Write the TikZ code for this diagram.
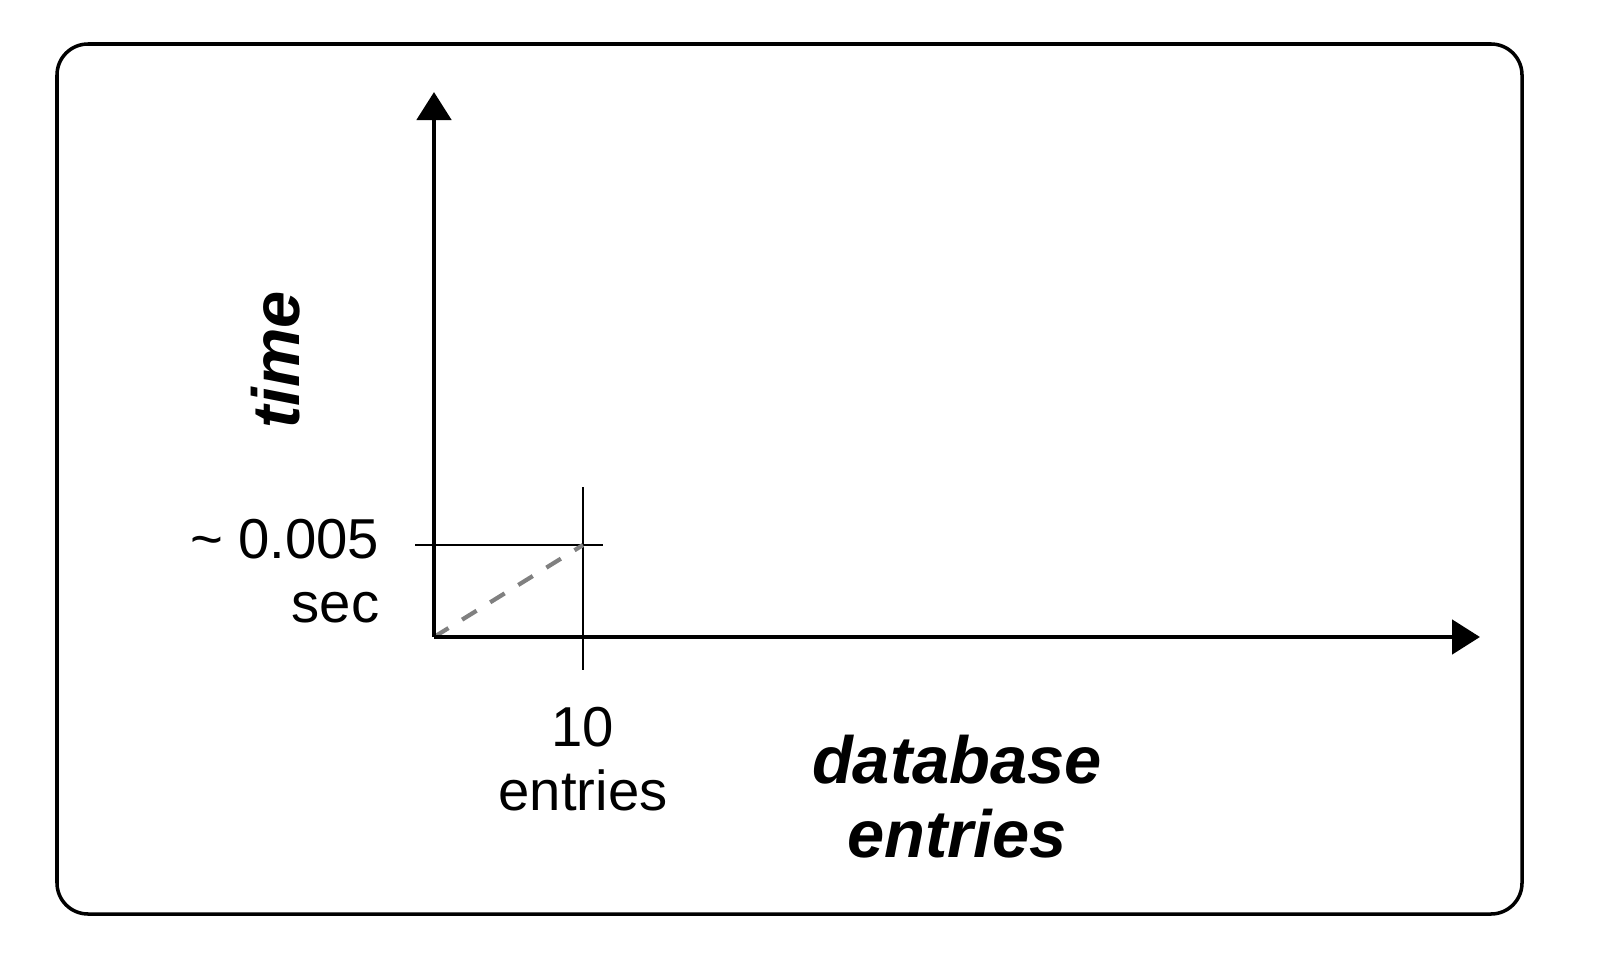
\documentclass[tikz,border=0pt]{standalone}
\usepackage{fontspec}
\setmainfont{Liberation Sans}
\usetikzlibrary{arrows.meta}
\tikzset{
  axis/.style={line width=1.4pt, line join=miter, -{Triangle[length=0.28cm,width=0.34cm]}},
  tickline/.style={line width=0.7pt},
  trend/.style={line width=1.2pt, draw=gray, dash pattern=on 0.17cm off 0.16cm},
  frame/.style={line width=1pt, rounded corners=0.31cm},
  reg/.style={font=\fontsize{16}{19}\selectfont, inner sep=0pt},
  big/.style={font=\fontsize{19}{23}\selectfont\bfseries\itshape, inner sep=0pt}
}
\begin{document}
\begin{tikzpicture}[x=0.01cm,y=-0.01cm]
\useasboundingbox (0,0) rectangle (1600,970);
\draw[frame] (57,44) rectangle (1522,914);
\coordinate (O) at (434,637);
\coordinate (ytop) at (434,92);
\coordinate (xend) at (1480,637);
\coordinate (hl) at (415,545);
\coordinate (hr) at (603,545);
\coordinate (vt) at (583,487);
\coordinate (vb) at (583,670);
\coordinate (P) at (583,545);
\draw[tickline] (hl) -- (hr);
\draw[tickline] (vt) -- (vb);
\draw[trend] (O) -- (P);
\draw[axis] (O) -- (ytop);
\draw[axis] (O) -- (xend);
\node[reg, anchor=base east] (tval) at (380,558) {\char`\~{} 0.005};
\node[reg, anchor=base east] (tunit) at (380,622) {sec};
\node[reg, anchor=base] (nval) at (583,746) {10};
\node[reg, anchor=base] (nunit) at (583,810) {entries};
\node[big, anchor=base] (xl1) at (957,783) {database};
\node[big, anchor=base] (xl2) at (957,857) {entries};
\node[big, anchor=base, rotate=90] (yl) at (299,360) {time};
\end{tikzpicture}
\end{document}
